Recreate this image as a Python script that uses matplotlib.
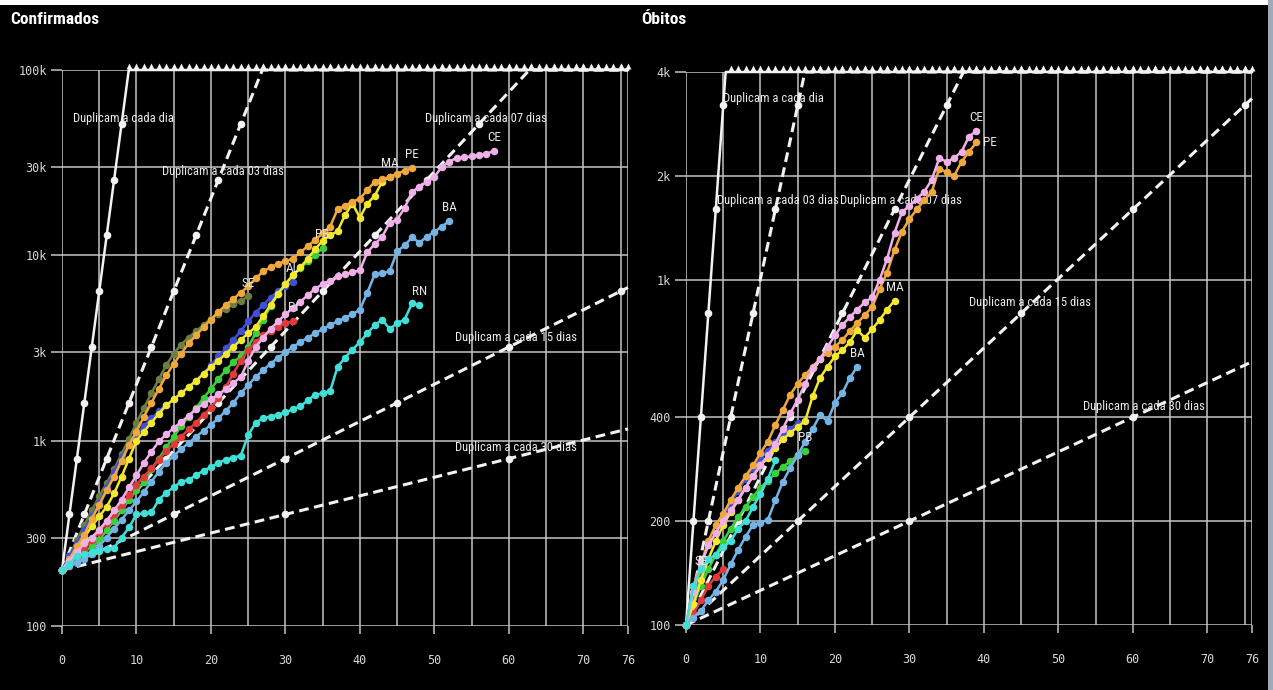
import matplotlib as mpl
import matplotlib.pyplot as plt
import numpy as np
from matplotlib.patches import Rectangle
from matplotlib.transforms import ScaledTranslation

mpl.use("Agg")

NARROW = ["Roboto Condensed", "Noto Sans", "DejaVu Sans"]
MONO = "DejaVu Sans Mono"
GRID = "#c4c4c4"
REF = "#f2f2f2"

x_max = 76
x_ticks = [0, 10, 20, 30, 40, 50, 60, 70, 76]
x_grid = list(range(0, 76, 5)) + [76]

# doubling-time reference lines
ref_periods = [1, 3, 7, 15, 30]
ref_texts = ["Duplicam a cada dia", "Duplicam a cada 03 dias", "Duplicam a cada 07 dias",
             "Duplicam a cada 15 dias", "Duplicam a cada 30 dias"]

state_names = ["SE", "AL", "PB", "PI", "MA", "PE", "CE", "BA", "RN"]
state_colors = ["#6b8040", "#3f4fd8", "#3ccf3c", "#e03a3a", "#f2e830",
                "#f0a83c", "#f0b0e8", "#74b4e4", "#40e0d8"]

# ---- Confirmados (days since ~200 cases)
conf_yticks = [100, 300, 1000, 3000, 10000, 30000, 100000]
conf_ylabels = ["100", "300", "1k", "3k", "10k", "30k", "100k"]
conf_start = 200
conf_ymax = 100000

conf_se = [200, 240, 290, 350, 420, 500, 590, 700, 850, 1020, 1250, 1500, 1800, 2150, 2550,
           2950, 3300, 3600, 3900, 4200, 4550, 4850, 5150, 5450, 5700, 6000]
conf_al = [200, 240, 280, 330, 390, 460, 560, 680, 820, 950, 1080, 1200, 1320, 1440, 1560,
           1680, 1800, 1950, 2100, 2300, 2550, 2850, 3150, 3500, 3900, 4400, 4900, 5400, 5900,
           6400, 6800, 7200]
conf_pb = [200, 215, 230, 250, 270, 290, 330, 370, 420, 480, 540, 600, 700, 800, 920, 1050,
           1200, 1350, 1500, 1700, 1900, 2150, 2400, 2650, 2850, 3200, 3800, 4500, 5300, 6200,
           7000, 7800, 8500, 9300, 10000, 11000]
conf_pi = [200, 215, 235, 260, 290, 320, 360, 400, 450, 510, 580, 640, 710, 790, 880, 960,
           1050, 1150, 1250, 1380, 1500, 1700, 1950, 2300, 2700, 3100, 3400, 3700, 3900, 4100,
           4300, 4400]
conf_ma = [200, 225, 260, 300, 345, 390, 440, 520, 640, 800, 1000, 1120, 1250, 1400, 1550,
           1670, 1800, 1950, 2100, 2300, 2500, 2700, 2950, 3200, 3500, 3800, 4100, 4700, 5400,
           6200, 7000, 7800, 8600, 9600, 10800, 12000, 12800, 13500, 16500, 19000, 16000,
           19000, 21000, 25000, 26500]
conf_pe = [200, 230, 270, 310, 380, 450, 540, 640, 780, 950, 1120, 1350, 1600, 1900, 2250,
           2600, 2950, 3350, 3700, 4100, 4500, 4950, 5400, 5800, 6300, 6800, 7500, 8200, 8600,
           9000, 9300, 9600, 10400, 11200, 12100, 13200, 14300, 17700, 18500, 19500, 20200,
           22500, 25000, 25800, 26500, 27600, 28600, 29500]
conf_ce = [200, 225, 250, 280, 300, 330, 370, 420, 480, 560, 650, 760, 870, 990, 1080, 1170,
           1260, 1360, 1480, 1580, 1670, 1780, 1900, 2050, 2200, 2700, 3200, 3600, 4000, 4400,
           4800, 5200, 5600, 6100, 6600, 7000, 7300, 7700, 7900, 8100, 8300, 10400, 11500,
           12600, 15000, 15600, 18000, 22000, 23500, 25000, 26500, 30000, 32000, 33600, 33800,
           34200, 34800, 35400, 36500]
conf_ba = [200, 210, 220, 230, 245, 270, 300, 335, 375, 420, 470, 530, 600, 680, 760, 830,
           900, 970, 1050, 1130, 1220, 1320, 1450, 1600, 1800, 2000, 2200, 2400, 2600, 2800,
           3000, 3200, 3400, 3600, 3800, 4000, 4200, 4400, 4600, 4800, 5100, 6300, 7900, 8000,
           8200, 10500, 11300, 12500, 11700, 12600, 13400, 14300, 15300]
conf_rn = [200, 215, 240, 245, 250, 255, 260, 265, 300, 340, 400, 405, 410, 480, 525, 560,
           600, 615, 650, 690, 720, 760, 790, 810, 830, 1070, 1250, 1320, 1350, 1380, 1420,
           1480, 1530, 1650, 1770, 1800, 1850, 2500, 2800, 3100, 3400, 3800, 4200, 4500, 4000,
           4300, 4500, 5500, 5400]

# ---- Óbitos (days since ~100 deaths)
ob_yticks = [100, 200, 400, 1000, 2000, 4000]
ob_ylabels = ["100", "200", "400", "1k", "2k", "4k"]
ob_start = 100
ob_ymax = 4000

ob_se = [100, 120, 140]
ob_al = [100, 125, 150, 170, 185, 205, 225, 245, 265, 285, 305, 320, 340, 355, 370, 385]
ob_pb = [100, 115, 130, 145, 160, 175, 190, 205, 220, 235, 250, 262, 275, 287, 298, 310, 320]
ob_pi = [100, 108, 118, 130, 138, 145]
ob_ma = [100, 115, 135, 155, 175, 195, 212, 230, 250, 270, 290, 305, 325, 345, 360, 375, 390,
         460, 520, 560, 600, 625, 660, 715, 680, 720, 765, 820, 870]
ob_pe = [100, 130, 150, 175, 195, 210, 230, 250, 270, 290, 315, 340, 380, 420, 465, 500, 530,
         560, 590, 615, 640, 670, 710, 750, 790, 835, 940, 1050, 1220, 1380, 1500, 1600, 1700,
         1800, 2100, 2050, 2000, 2200, 2350, 2500]
ob_ce = [100, 125, 150, 170, 185, 200, 215, 230, 250, 270, 290, 310, 335, 370, 410, 450, 500,
         556, 590, 640, 690, 740, 780, 820, 860, 890, 1000, 1150, 1370, 1570, 1640, 1720, 1800,
         1950, 2250, 2200, 2250, 2350, 2600, 2700]
ob_ba = [100, 105, 110, 118, 125, 135, 150, 165, 180, 195, 198, 202, 230, 260, 285, 310, 340,
         370, 405, 390, 440, 470, 520, 560]
ob_rn = [100, 130, 145, 155, 160, 168, 175, 190, 200, 220, 240, 265, 300]

conf_all = [conf_se, conf_al, conf_pb, conf_pi, conf_ma, conf_pe, conf_ce, conf_ba, conf_rn]
ob_all = [ob_se, ob_al, ob_pb, ob_pi, ob_ma, ob_pe, ob_ce, ob_ba, ob_rn]
ob_labelled = ["SE", "PB", "MA", "PE", "CE", "BA"]

# label anchors for reference lines (day, value)
conf_ref_pos = [(1.5, 55000), (13.4, 28500), (48.7, 55000), (52.8, 3600), (52.8, 920)]
ob_ref_pos = [(5.0, 3350), (4.2, 1700), (20.7, 1700), (38.0, 860), (53.3, 430)]

# the labels are set in a condensed face, about this many pixels per character
REF_W_PER_CHAR = 5.25
fitted = []


def fit_text(t, width_px):
    fitted.append((t, width_px))


def draw_refs(ax, start, ymax, label_pos):
    fig = ax.figure
    lift = ax.transData + ScaledTranslation(0, 3 / 72, fig.dpi_scale_trans)
    xs = np.linspace(0, x_max, 1521)
    for period, text, pos in zip(ref_periods, ref_texts, label_pos):
        ys = np.minimum(start * 2 ** (xs / period), ymax)
        if period == 1:
            ax.plot(xs, ys, color=REF, lw=1.8, zorder=3, clip_on=False)
        else:
            ax.plot(xs, ys, color=REF, lw=2.2, ls=(0, (3.2, 1.8)), zorder=3, clip_on=False)
        mx = np.arange(0, x_max + 1, period)
        my = start * 2.0 ** (mx / period)
        below = my <= ymax
        ax.plot(mx[below], my[below], "o", color=REF, ms=4.5, zorder=4, clip_on=False)
        ax.plot(mx[~below], np.full((~below).sum(), ymax), "^", color=REF, ms=5,
                mec="none", zorder=5, clip_on=False, transform=lift)
        t = ax.text(pos[0], pos[1], text, color="#ececec", fontsize=10, family=NARROW,
                    ha="left", va="center", zorder=6)
        fit_text(t, REF_W_PER_CHAR * len(text))


def draw_panel(ax, title, title_x, title_w, series, labelled, start, ymax, yticks, ylabels,
               label_pos, side_labels=()):
    ax.set_facecolor("black")
    ax.set_yscale("log")
    ax.set_xlim(0, x_max)
    ax.set_ylim(100, ymax)
    for s in ax.spines.values():
        s.set_visible(False)

    for gx in x_grid:
        ax.axvline(gx, color=GRID, lw=1.1, zorder=1)
    for gy in yticks:
        ax.axhline(gy, color=GRID, lw=1.1, zorder=1)

    ax.set_xticks(x_ticks)
    ax.set_xticklabels([str(t) for t in x_ticks])
    ax.set_yticks(yticks)
    ax.set_yticklabels(ylabels)
    ax.yaxis.set_minor_locator(mpl.ticker.NullLocator())
    ax.tick_params(axis="x", length=6, width=1.1, color=GRID, pad=14, labelsize=8.5,
                   labelcolor="#d8d8d8")
    ax.tick_params(axis="y", length=8, width=1.1, color=GRID, pad=3, labelsize=8.5,
                   labelcolor="#d8d8d8")
    for lab in ax.get_xticklabels() + ax.get_yticklabels():
        lab.set_family(MONO)

    draw_refs(ax, start, ymax, label_pos)

    for name, color, vals in zip(state_names, state_colors, series):
        days = np.arange(len(vals))
        ax.plot(days, vals, "-o", color=color, lw=1.8, ms=4.4, zorder=7, clip_on=False)
        if name not in labelled:
            continue
        if name in side_labels:
            ax.annotate(name, (days[-1], vals[-1]), xytext=(5, 0), textcoords="offset points",
                        ha="left", va="center", color="#e6e6e6", fontsize=9.5, family=NARROW,
                        zorder=8)
        else:
            ax.annotate(name, (days[-1], vals[-1]), xytext=(0, 5), textcoords="offset points",
                        ha="center", va="bottom", color="#e6e6e6", fontsize=9.5, family=NARROW,
                        zorder=8)

    t = ax.figure.text(title_x, 1 - 19 / 690, title, color="white", fontsize=12.5,
                       fontweight="bold", family=NARROW, ha="left", va="center")
    fit_text(t, title_w)


fig = plt.figure(figsize=(12.73, 6.90), dpi=100, facecolor="black")
# light strips along the top and right edges of the frame
fig.patches.append(Rectangle((0, 1 - 5 / 690), 1, 5 / 690, transform=fig.transFigure,
                             facecolor="white", edgecolor="none", zorder=0))
fig.patches.append(Rectangle((1 - 5 / 1273, 0), 5 / 1273, 1, transform=fig.transFigure,
                             facecolor="#9fabb8", edgecolor="none", zorder=0))

ax_conf = fig.add_axes([62 / 1273, 1 - 626 / 690, 566 / 1273, 556 / 690])
ax_ob = fig.add_axes([686 / 1273, 1 - 625 / 690, 566 / 1273, 553 / 690])

draw_panel(ax_conf, "Confirmados", 10 / 1273, 90, conf_all, state_names, conf_start,
           conf_ymax, conf_yticks, conf_ylabels, conf_ref_pos)
draw_panel(ax_ob, "Óbitos", 641 / 1273, 47, ob_all, ob_labelled, ob_start, ob_ymax,
           ob_yticks, ob_ylabels, ob_ref_pos, side_labels=("PE",))

# shrink the fitted labels to their set widths with whatever face got picked
renderer = fig.canvas.get_renderer()
for t, w in fitted:
    cur = t.get_window_extent(renderer).width
    if cur > w:
        t.set_fontsize(t.get_fontsize() * w / cur)

fig.savefig("out.png", dpi=100, facecolor="black")
